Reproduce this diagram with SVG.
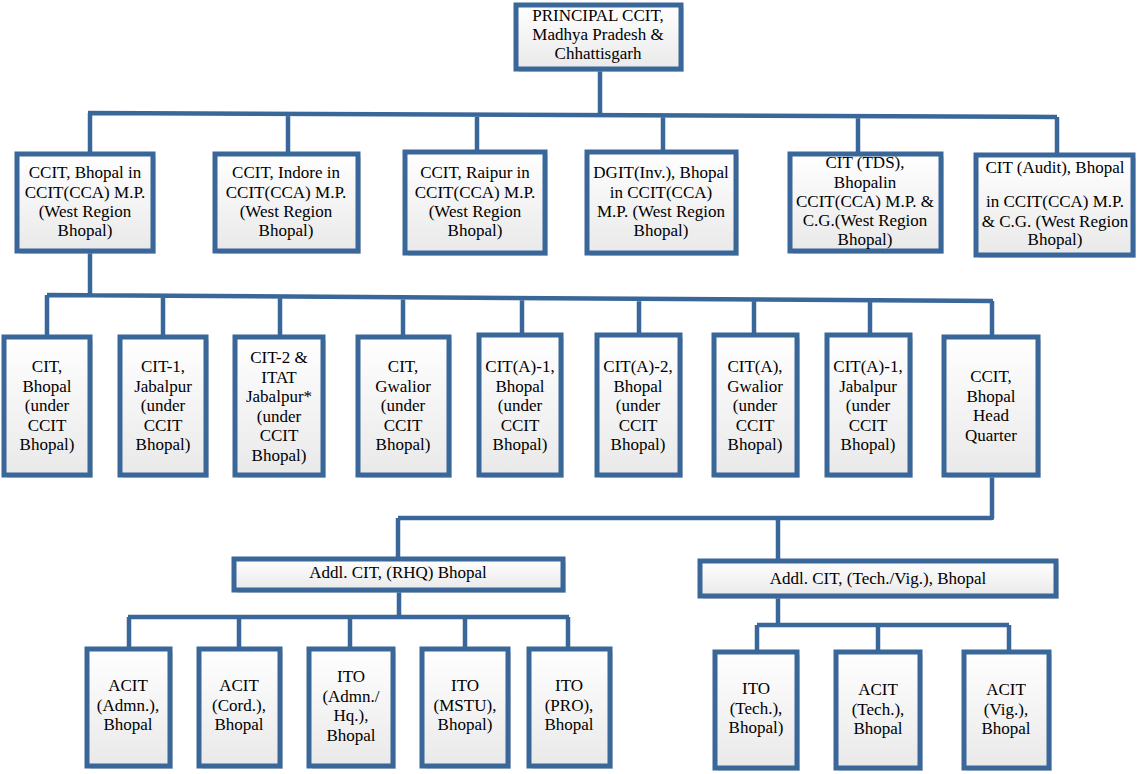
<svg xmlns="http://www.w3.org/2000/svg" width="1140" height="774" viewBox="0 0 1140 774">
<defs>
<linearGradient id="g" x1="0" y1="0" x2="0" y2="1">
<stop offset="0" stop-color="#ffffff"/>
<stop offset="1" stop-color="#e9e9e9"/>
</linearGradient>
</defs>
<style>
.box{fill:url(#g);stroke:#3A679A;stroke-width:5}
.sh{fill:#b8b8b8;opacity:.55}
text{font-family:"Liberation Serif","Times New Roman",serif;font-size:17px;text-anchor:middle;fill:#000}
.c{fill:none;stroke:#3A679A;stroke-width:4.5;stroke-linejoin:round}
</style>
<rect width="1140" height="774" fill="#fff"/>
<g id="connectors">
<path class="c" d="M600 69 V113 M88 113 L1057 117 M90 113 V154 M288 114 V154 M477 115 V152 M663 115 V152 M858 116 V154 M1057 117 V155"/>
<path class="c" d="M90 251 V296 M47 295 L993 301 M47 295 V337 M163 296 V337 M280 297 V337 M403 297 V337 M522 298 V335 M639 298 V335 M754 299 V335 M870 300 V335 M992 301 V337"/>
<path class="c" d="M992 475 V518 H398 M398 518 V559 M778 518 V561"/>
<path class="c" d="M399 590 V617 M128 617 H569 M129 617 V649 M239 617 V649 M350 617 V649 M465 617 V649 M568 617 V649"/>
<path class="c" d="M778 596 V625 M757 625 H1009 M757 625 V652 M878 625 V652 M1009 625 V652"/>
</g>
<g id="n0"><rect class="sh" x="519" y="8" width="165" height="64"/><rect class="box" x="516" y="5" width="165" height="64"/>
<text x="598" y="21">PRINCIPAL CCIT,</text><text x="598" y="40">Madhya Pradesh &amp;</text><text x="598" y="59">Chhattisgarh</text></g>
<g id="n1"><rect class="sh" x="20" y="157" width="136" height="97"/><rect class="box" x="17" y="154" width="136" height="97"/>
<text x="85" y="178">CCIT, Bhopal in</text><text x="85" y="197.5">CCIT(CCA) M.P.</text><text x="85" y="217">(West Region</text><text x="85" y="236">Bhopal)</text></g>
<g id="n2"><rect class="sh" x="218" y="157" width="143" height="97"/><rect class="box" x="215" y="154" width="143" height="97"/>
<text x="286" y="178">CCIT, Indore in</text><text x="286" y="197.5">CCIT(CCA) M.P.</text><text x="286" y="217">(West Region</text><text x="286" y="236">Bhopal)</text></g>
<g id="n3"><rect class="sh" x="408" y="155" width="140" height="101"/><rect class="box" x="405" y="152" width="140" height="101"/>
<text x="475" y="178">CCIT, Raipur in</text><text x="475" y="197.5">CCIT(CCA) M.P.</text><text x="475" y="217">(West Region</text><text x="475" y="236">Bhopal)</text></g>
<g id="n4"><rect class="sh" x="590" y="155" width="149" height="101"/><rect class="box" x="587" y="152" width="149" height="101"/>
<text x="661" y="178">DGIT(Inv.), Bhopal</text><text x="661" y="197.5">in CCIT(CCA)</text><text x="661" y="217">M.P. (West Region</text><text x="661" y="236">Bhopal)</text></g>
<g id="n5"><rect class="sh" x="793" y="157" width="151" height="97"/><rect class="box" x="790" y="154" width="151" height="97"/>
<text x="865" y="168">CIT (TDS),</text><text x="865" y="187.5">Bhopalin</text><text x="865" y="207">CCIT(CCA) M.P. &amp;</text><text x="865" y="226">C.G.(West Region</text><text x="865" y="245">Bhopal)</text></g>
<g id="n6"><rect class="sh" x="979" y="158" width="157" height="100"/><rect class="box" x="976" y="155" width="157" height="100"/>
<text x="1055" y="173">CIT (Audit), Bhopal</text><text x="1055" y="207">in CCIT(CCA) M.P.</text><text x="1055" y="226.5">&amp; C.G. (West Region</text><text x="1055" y="245">Bhopal)</text></g>
<g id="r1"><rect class="sh" x="7" y="340" width="86" height="138"/><rect class="box" x="4" y="337" width="86" height="138"/>
<text x="47" y="372">CIT,</text><text x="47" y="391.5">Bhopal</text><text x="47" y="411">(under</text><text x="47" y="430.5">CCIT</text><text x="47" y="450">Bhopal)</text></g>
<g id="r2"><rect class="sh" x="123" y="340" width="86" height="138"/><rect class="box" x="120" y="337" width="86" height="138"/>
<text x="163" y="372">CIT-1,</text><text x="163" y="391.5">Jabalpur</text><text x="163" y="411">(under</text><text x="163" y="430.5">CCIT</text><text x="163" y="450">Bhopal)</text></g>
<g id="r3"><rect class="sh" x="238" y="340" width="88" height="138"/><rect class="box" x="235" y="337" width="88" height="138"/>
<text x="279" y="363">CIT-2 &amp;</text><text x="279" y="382.5">ITAT</text><text x="279" y="402">Jabalpur*</text><text x="279" y="421.5">(under</text><text x="279" y="441">CCIT</text><text x="279" y="460.5">Bhopal)</text></g>
<g id="r4"><rect class="sh" x="361" y="340" width="91" height="138"/><rect class="box" x="358" y="337" width="91" height="138"/>
<text x="403" y="372">CIT,</text><text x="403" y="391.5">Gwalior</text><text x="403" y="411">(under</text><text x="403" y="430.5">CCIT</text><text x="403" y="450">Bhopal)</text></g>
<g id="r5"><rect class="sh" x="482" y="338" width="82" height="140"/><rect class="box" x="479" y="335" width="82" height="140"/>
<text x="520" y="372">CIT(A)-1,</text><text x="520" y="391.5">Bhopal</text><text x="520" y="411">(under</text><text x="520" y="430.5">CCIT</text><text x="520" y="450">Bhopal)</text></g>
<g id="r6"><rect class="sh" x="600" y="338" width="83" height="140"/><rect class="box" x="597" y="335" width="83" height="140"/>
<text x="638" y="372">CIT(A)-2,</text><text x="638" y="391.5">Bhopal</text><text x="638" y="411">(under</text><text x="638" y="430.5">CCIT</text><text x="638" y="450">Bhopal)</text></g>
<g id="r7"><rect class="sh" x="717" y="338" width="83" height="140"/><rect class="box" x="714" y="335" width="83" height="140"/>
<text x="755" y="372">CIT(A),</text><text x="755" y="391.5">Gwalior</text><text x="755" y="411">(under</text><text x="755" y="430.5">CCIT</text><text x="755" y="450">Bhopal)</text></g>
<g id="r8"><rect class="sh" x="830" y="338" width="83" height="140"/><rect class="box" x="827" y="335" width="83" height="140"/>
<text x="868" y="372">CIT(A)-1,</text><text x="868" y="391.5">Jabalpur</text><text x="868" y="411">(under</text><text x="868" y="430.5">CCIT</text><text x="868" y="450">Bhopal)</text></g>
<g id="r9"><rect class="sh" x="947" y="340" width="94" height="138"/><rect class="box" x="944" y="337" width="94" height="138"/>
<text x="991" y="382">CCIT,</text><text x="991" y="401.5">Bhopal</text><text x="991" y="421">Head</text><text x="991" y="440.5">Quarter</text></g>
<g id="m1"><rect class="sh" x="237" y="562" width="329" height="31"/><rect class="box" x="234" y="559" width="329" height="31"/>
<text x="398" y="578">Addl. CIT, (RHQ) Bhopal</text></g>
<g id="m2"><rect class="sh" x="703" y="564" width="356" height="35"/><rect class="box" x="700" y="561" width="356" height="35"/>
<text x="878" y="584">Addl. CIT, (Tech./Vig.), Bhopal</text></g>
<g id="b1"><rect class="sh" x="90" y="652" width="83" height="117"/><rect class="box" x="87" y="649" width="83" height="117"/>
<text x="128" y="691">ACIT</text><text x="128" y="710.5">(Admn.),</text><text x="128" y="730">Bhopal</text></g>
<g id="b2"><rect class="sh" x="202" y="652" width="81" height="117"/><rect class="box" x="199" y="649" width="81" height="117"/>
<text x="239" y="691">ACIT</text><text x="239" y="710.5">(Cord.),</text><text x="239" y="730">Bhopal</text></g>
<g id="b3"><rect class="sh" x="312" y="652" width="84" height="117"/><rect class="box" x="309" y="649" width="84" height="117"/>
<text x="351" y="682">ITO</text><text x="351" y="701.5">(Admn./</text><text x="351" y="721">Hq.),</text><text x="351" y="740.5">Bhopal</text></g>
<g id="b4"><rect class="sh" x="425" y="652" width="86" height="117"/><rect class="box" x="422" y="649" width="86" height="117"/>
<text x="465" y="691">ITO</text><text x="465" y="710.5">(MSTU),</text><text x="465" y="730">Bhopal)</text></g>
<g id="b5"><rect class="sh" x="532" y="652" width="81" height="117"/><rect class="box" x="529" y="649" width="81" height="117"/>
<text x="569" y="691">ITO</text><text x="569" y="710.5">(PRO),</text><text x="569" y="730">Bhopal</text></g>
<g id="t1"><rect class="sh" x="718" y="655" width="82" height="116"/><rect class="box" x="715" y="652" width="82" height="116"/>
<text x="756" y="694">ITO</text><text x="756" y="713.5">(Tech.),</text><text x="756" y="733">Bhopal)</text></g>
<g id="t2"><rect class="sh" x="839" y="655" width="84" height="116"/><rect class="box" x="836" y="652" width="84" height="116"/>
<text x="878" y="695">ACIT</text><text x="878" y="714.5">(Tech.),</text><text x="878" y="734">Bhopal</text></g>
<g id="t3"><rect class="sh" x="967" y="655" width="85" height="116"/><rect class="box" x="964" y="652" width="85" height="116"/>
<text x="1006" y="695">ACIT</text><text x="1006" y="714.5">(Vig.),</text><text x="1006" y="734">Bhopal</text></g>
</svg>
